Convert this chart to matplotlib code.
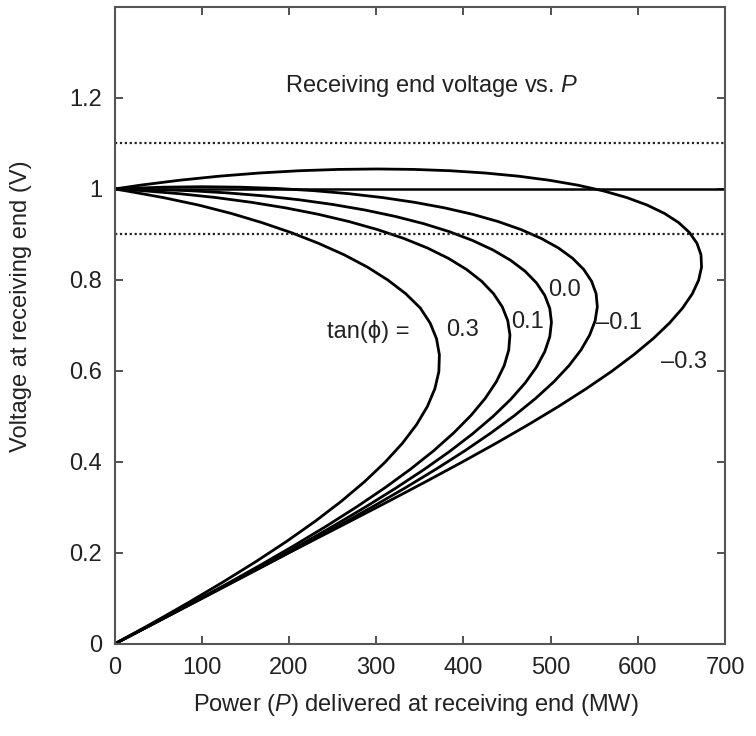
import matplotlib
matplotlib.use("Agg")
import matplotlib.pyplot as plt

plt.rcParams['font.family'] = ['Liberation Sans', 'DejaVu Sans']
plt.rcParams['mathtext.fontset'] = 'custom'
plt.rcParams['mathtext.it'] = 'Liberation Sans:italic'

# ---- data (P in MW, V in pu) ----
tan_phi_values = ["0.3", "0.1", "0.0", "\u20130.1", "\u20130.3"]

p_03 = [0, 43.1, 84.7, 124.5, 162.3, 197.7, 230.4, 260.2, 286.9, 310.2, 330.1, 346.3,
        358.7, 367.3, 371.9, 372.5, 369.2, 361.9, 350.7, 334.0, 313.5, 290.0, 263.5,
        234.0, 202.5, 169.0, 134.0, 96.5, 56.0, 13.9, 0]
v_03 = [0, 0.0455, 0.0910, 0.1363, 0.1813, 0.2260, 0.2702, 0.3139, 0.3571, 0.3995,
        0.4412, 0.4821, 0.5220, 0.5610, 0.5988, 0.6356, 0.6711, 0.7053, 0.7382, 0.7697,
        0.7998, 0.8283, 0.8552, 0.8805, 0.9042, 0.9261, 0.9462, 0.9646, 0.9811, 0.9957, 1.0]

p_01 = [0, 43.5, 86.2, 128.0, 168.3, 207.0, 243.8, 278.3, 310.3, 339.6, 365.9, 389.0,
        408.8, 425.1, 437.8, 446.8, 452.0, 453.4, 450.9, 444.6, 434.6, 420.9, 403.6,
        382.8, 358.7, 331.6, 301.5, 268.7, 233.6, 196.2, 157.0, 116.2, 74.2, 31.2, 0]
v_01 = [0, 0.0438, 0.0876, 0.1312, 0.1745, 0.2175, 0.2601, 0.3022, 0.3437, 0.3846,
        0.4247, 0.4641, 0.5025, 0.5400, 0.5764, 0.6118, 0.6460, 0.6790, 0.7106, 0.7410,
        0.7699, 0.7973, 0.8232, 0.8476, 0.8704, 0.8914, 0.9108, 0.9285, 0.9444, 0.9585,
        0.9707, 0.9812, 0.9897, 0.9964, 1.0]

p_00 = [0, 43.7, 87.0, 129.7, 171.4, 211.7, 250.5, 287.4, 322.0, 354.3, 383.8, 410.4,
        433.9, 454.1, 470.8, 483.9, 493.4, 499.1, 501.0, 499.1, 493.4, 483.9, 470.8,
        454.1, 433.9, 410.4, 383.8, 354.3, 322.0, 287.4, 250.5, 211.7, 171.4, 129.7,
        87.0, 43.7, 0]
v_00 = [0, 0.0436, 0.0872, 0.1305, 0.1736, 0.2164, 0.2588, 0.3007, 0.3420, 0.3827,
        0.4226, 0.4617, 0.5000, 0.5373, 0.5736, 0.6088, 0.6428, 0.6756, 0.7071, 0.7373,
        0.7660, 0.7934, 0.8192, 0.8434, 0.8660, 0.8870, 0.9063, 0.9239, 0.9397, 0.9537,
        0.9659, 0.9763, 0.9848, 0.9914, 0.9962, 0.9990, 1.0]

p_m01 = [0, 43.9, 87.8, 131.4, 174.4, 216.4, 257.2, 296.4, 333.8, 368.9, 401.7, 431.8,
         458.9, 483.0, 503.8, 521.1, 534.8, 544.8, 551.1, 553.6, 552.2, 547.0, 538.0,
         525.3, 509.0, 489.2, 466.1, 439.8, 410.5, 378.5, 344.0, 307.2, 268.5, 228.2,
         186.4, 143.7, 100.2, 56.3, 12.4, 0]
v_m01 = [0, 0.0438, 0.0876, 0.1312, 0.1745, 0.2175, 0.2601, 0.3022, 0.3437, 0.3846,
         0.4247, 0.4641, 0.5025, 0.5400, 0.5764, 0.6118, 0.6460, 0.6790, 0.7106, 0.7410,
         0.7699, 0.7973, 0.8232, 0.8476, 0.8704, 0.8914, 0.9108, 0.9285, 0.9444, 0.9585,
         0.9707, 0.9812, 0.9897, 0.9964, 1.0012, 1.0040, 1.0050, 1.0040, 1.0012, 1.0]

p_m03 = [0, 44.2, 89.3, 134.8, 180.4, 225.8, 270.6, 314.5, 357.2, 398.3, 437.5, 474.5,
         509.0, 540.8, 569.7, 595.3, 617.6, 636.3, 651.3, 662.5, 669.8, 673.1, 672.5,
         667.9, 659.3, 646.9, 630.7, 610.8, 587.5, 560.8, 531.0, 498.3, 462.9, 425.1,
         385.3, 343.7, 300.6, 256.4, 211.3, 165.8, 120.2, 74.8, 30.0, 0]
v_m03 = [0, 0.0455, 0.0910, 0.1363, 0.1813, 0.2260, 0.2702, 0.3139, 0.3571, 0.3995,
         0.4412, 0.4821, 0.5220, 0.5610, 0.5988, 0.6356, 0.6711, 0.7053, 0.7382, 0.7697,
         0.7998, 0.8283, 0.8552, 0.8805, 0.9042, 0.9261, 0.9462, 0.9646, 0.9811, 0.9957,
         1.0085, 1.0193, 1.0282, 1.0351, 1.0401, 1.0430, 1.0440, 1.0430, 1.0401, 1.0351,
         1.0282, 1.0193, 1.0085, 1.0]

nominal_v = 1.0
limit_v = [1.1, 0.9]
x_ticks = [0, 100, 200, 300, 400, 500, 600, 700]
y_ticks = [0, 0.2, 0.4, 0.6, 0.8, 1.0, 1.2]
y_tick_labels = ["0", "0.2", "0.4", "0.6", "0.8", "1", "1.2"]

# label positions (data coords)
label_p = [399, 473, 516, 579, 653]
label_v = [0.690, 0.708, 0.778, 0.706, 0.620]

FS = 17

# ---- figure ----
fig = plt.figure(figsize=(7.56, 7.36), dpi=100)
ax = fig.add_axes([0.1515, 0.125, 0.8075, 0.8655])

curves = [(p_03, v_03), (p_01, v_01), (p_00, v_00), (p_m01, v_m01), (p_m03, v_m03)]
for p, v in curves:
    ax.plot(p, v, color='black', lw=2.0, solid_joinstyle='round', solid_capstyle='round')

ax.plot([0, 700], [nominal_v, nominal_v], color='black', lw=1.8)
for lv in limit_v:
    ax.plot([0, 700], [lv, lv], color='#222222', lw=1.6, linestyle=(0, (1, 1.2)))

for txt, px, pv in zip(tan_phi_values, label_p, label_v):
    ax.text(px, pv, txt, fontsize=FS, ha='center', va='center', color='#222222')
ax.text(291, 0.686, "tan(\u03d5) =", fontsize=FS, ha='center', va='center',
        color='#222222', family=['Liberation Sans', 'DejaVu Sans'])

ax.text(364, 1.226, "Receiving end voltage vs. $\\mathit{P}$", fontsize=FS,
        ha='center', va='center', color='#222222')

ax.set_xlim(0, 700)
ax.set_ylim(0, 1.4)
ax.set_xticks(x_ticks)
ax.set_xticklabels([str(t) for t in x_ticks])
ax.set_yticks(y_ticks)
ax.set_yticklabels(y_tick_labels)
ax.tick_params(direction='in', length=6, width=1.2, top=True, right=True,
               labelsize=FS, pad=9, colors='#333333', labelcolor='#222222')
for s in ax.spines.values():
    s.set_color('#555555')
    s.set_linewidth(1.5)

ax.set_xlabel("Power ($\\mathit{P}$) delivered at receiving end (MW)", fontsize=FS, color='#222222')
ax.xaxis.set_label_coords(0.493, -0.075)
ax.set_ylabel("Voltage at receiving end (V)", fontsize=FS, color='#222222')
ax.yaxis.set_label_coords(-0.135, 0.53)

fig.savefig("out.png", dpi=100)
